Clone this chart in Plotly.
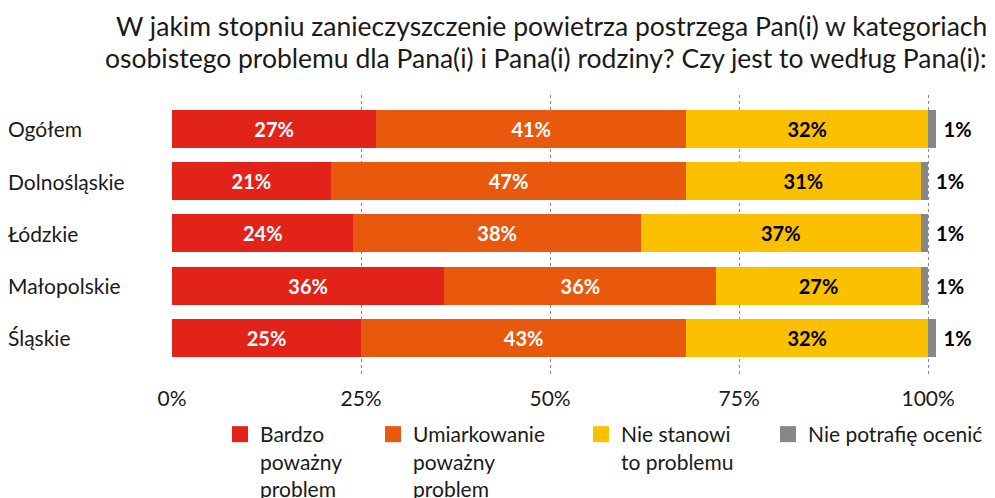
import plotly.graph_objects as go

categories = ["Ogółem", "Dolnośląskie", "Łódzkie", "Małopolskie", "Śląskie"]
series_names = ["Bardzo<br>poważny<br>problem", "Umiarkowanie<br>poważny<br>problem",
                "Nie stanowi<br>to problemu", "Nie potrafię ocenić"]
bardzo = [27, 21, 24, 36, 25]
umiarkowanie = [41, 47, 38, 36, 43]
nie_stanowi = [32, 31, 37, 27, 32]
nie_wiem = [1, 1, 1, 1, 1]
colors = ["#E2231A", "#E8590E", "#FBC100", "#878787"]
text_colors = ["white", "white", "black", "black"]
tick_vals = [0, 25, 50, 75, 100]
tick_text = ["0%", "25%", "50%", "75%", "100%"]
title_lines = ["W jakim stopniu zanieczyszczenie powietrza postrzega Pan(i) w kategoriach",
               "osobistego problemu dla Pana(i) i Pana(i) rodziny? Czy jest to według Pana(i):"]

FONT = "Lato"
DARK = "#1a1a1a"
W, H = 987, 490          # page body has an 8px margin
PLOT_TOP, PLOT_H = 95, 281   # page pixels
PL, PW = 172, 793.8

fig = go.Figure()
all_vals = [bardzo, umiarkowanie, nie_stanowi, nie_wiem]
for i, vals in enumerate(all_vals):
    last = i == 3
    fig.add_trace(go.Bar(
        y=categories, x=vals, orientation="h", name=series_names[i],
        marker=dict(color=colors[i], line=dict(width=0)),
        text=[("\u00a0" if last else "") + f"{v}%" for v in vals],
        textposition="outside" if last else "inside",
        insidetextanchor="middle",
        textangle=0,
        constraintext="none",
        cliponaxis=False,
        textfont=dict(family=FONT, size=20, color=text_colors[i], weight="bold"),
        hoverinfo="skip",
        showlegend=False,
    ))

legend_keys = ["legend", "legend2", "legend3", "legend4"]
for i, name in enumerate(series_names):
    fig.add_trace(go.Scatter(
        x=[None], y=[None], mode="markers", name=name,
        marker=dict(symbol="square", size=16, color=colors[i]),
        legend=legend_keys[i], showlegend=True, hoverinfo="skip",
    ))

for c in categories:
    fig.add_annotation(x=0, xref="paper", y=c, yref="y", text=c, showarrow=False,
                       xanchor="left", xshift=-166,
                       font=dict(family=FONT, size=21, color=DARK))

# title: two lines with tight spacing, right aligned
title_centers = [26, 58]
for line, cy in zip(title_lines, title_centers):
    fig.add_annotation(x=(989 - PL) / PW, xref="paper",
                       y=1 - (cy - PLOT_TOP) / PLOT_H, yref="paper", text=line,
                       showarrow=False, xanchor="right", yanchor="middle",
                       font=dict(family=FONT, size=26.5, color=DARK))

legend_text_x = [262, 415, 623, 810]
legend_layouts = {}
for key, tx in zip(legend_keys, legend_text_x):
    legend_layouts[key] = dict(
        xref="container", yref="container",
        x=(tx - 42 - 8) / W, xanchor="left",
        y=1 - (414 - 8) / H, yanchor="top",
        orientation="v", valign="top", bgcolor="rgba(0,0,0,0)",
        font=dict(family=FONT, size=21, color=DARK), itemwidth=30,
    )

fig.update_layout(
    barmode="stack",
    bargap=0.273,
    width=W, height=H,
    margin=dict(l=PL - 8, r=W - (PL - 8) - PW, t=PLOT_TOP - 8, b=H - (PLOT_TOP - 8) - PLOT_H,
                autoexpand=False),
    paper_bgcolor="white", plot_bgcolor="white",
    showlegend=True,
    xaxis=dict(range=[0, 105], tickvals=tick_vals, ticktext=tick_text,
               showgrid=True, gridcolor="#8a8a8a", griddash="dot", gridwidth=1,
               zeroline=False, showline=False, ticks="",
               tickfont=dict(family=FONT, size=21, color=DARK),
               ticklabelstandoff=8),
    yaxis=dict(range=[4.73, -0.65], showticklabels=False, showgrid=False,
               zeroline=False, showline=False),
    **legend_layouts,
)

fig.write_html("out.html")
